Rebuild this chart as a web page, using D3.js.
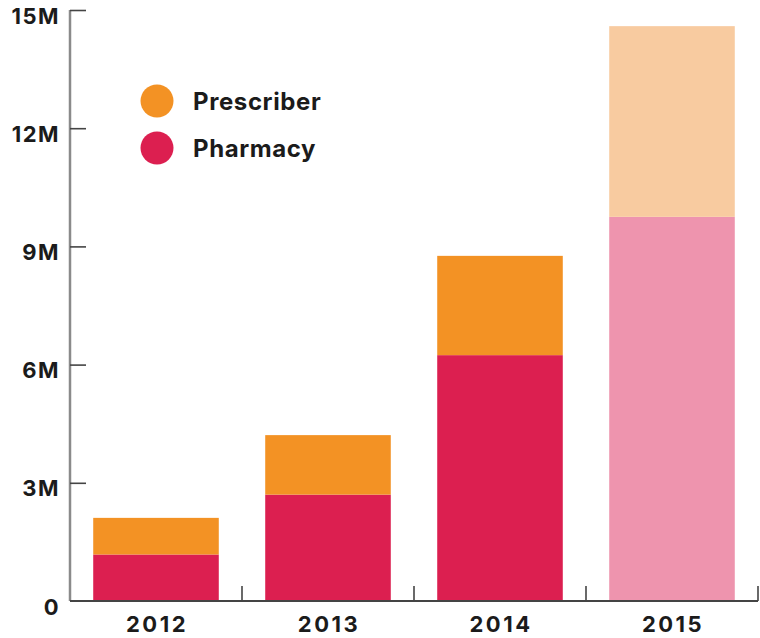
<!DOCTYPE html>
<html>
<head>
<meta charset="utf-8">
<script src="https://cdn.jsdelivr.net/npm/d3@7"></script>
<style>
  html, body { margin: 0; padding: 0; background: #fff; }
  svg { display: block; }
  text { font-family: Inter, "Open Sans", sans-serif; font-weight: 700; fill: #1b1b1b; }
</style>
</head>
<body>
<svg id="chart" width="760" height="638"></svg>
<script>
// Prescription volumes by year, stacked by source
const years = ["2012", "2013", "2014", "2015"];
const pharmacy = [1.18, 2.70, 6.24, 9.75];
const prescriber = [0.93, 1.51, 2.52, 4.84];
const seriesNames = ["Prescriber", "Pharmacy"];
const yTicks = [0, 3, 6, 9, 12, 15];
const yTickLabels = ["0", "3M", "6M", "9M", "12M", "15M"];

// 2015 is drawn in lighter tints (projected year)
const colors = {
  Pharmacy: "#dc1f50",
  Prescriber: "#f39224",
  PharmacyLight: "#ee94ae",
  PrescriberLight: "#f8cba0"
};

const svg = d3.select("#chart");
const x0 = 70, x1 = 758, yBase = 601, yTop = 10;

const x = d3.scaleBand().domain(years).range([x0, x1])
  .paddingInner(0.27).paddingOuter(0.135);
const y = d3.scaleLinear().domain([0, 15]).range([yBase, yTop]);

const rows = years.map((yr, i) => ({ year: yr, Pharmacy: pharmacy[i], Prescriber: prescriber[i] }));
const stack = d3.stack().keys(["Pharmacy", "Prescriber"])(rows);

const bars = svg.append("g");
stack.forEach(layer => {
  bars.selectAll(null).data(layer).join("rect")
    .attr("x", d => x(d.data.year))
    .attr("width", x.bandwidth())
    .attr("y", d => y(d[1]))
    .attr("height", d => y(d[0]) - y(d[1]))
    .attr("fill", d => d.data.year === "2015" ? colors[layer.key + "Light"] : colors[layer.key]);
});

// Y axis: ticks point inward, labels on the left
const yAxis = svg.append("g").attr("transform", `translate(${x0},0)`)
  .call(d3.axisLeft(y).tickValues(yTicks).tickSize(-16)
    .tickFormat((d, i) => yTickLabels[i]).tickPadding(28));
yAxis.select(".domain").attr("stroke", "#8a8a8a").attr("stroke-width", 2.5)
  .attr("d", `M0,${yBase}V${yTop}`);
yAxis.selectAll(".tick line").attr("stroke", "#444").attr("stroke-width", 1.6);
yAxis.selectAll(".tick text")
  .attr("x", -10).attr("dy", 0).attr("y", 13)
  .style("font-size", "22px").style("font-family", "Inter, sans-serif")
  .style("letter-spacing", "1.5px")
  .style("font-weight", 700).attr("fill", "#1b1b1b");
yAxis.selectAll(".tick").filter(d => d === 0).select("line").remove();

// X axis: baseline, boundary ticks pointing up, year labels centered
const xAxis = svg.append("g").attr("transform", `translate(0,${yBase})`)
  .call(d3.axisBottom(x).tickSize(0));
xAxis.select(".domain").attr("stroke", "#444").attr("stroke-width", 2)
  .attr("d", `M${x0},0H${x1}`);
xAxis.selectAll(".tick text")
  .attr("y", 31).attr("dy", 0).attr("x", 1)
  .style("font-size", "22px").style("font-family", "Inter, sans-serif")
  .style("letter-spacing", "2.5px")
  .style("font-weight", 700).attr("fill", "#1b1b1b");
const boundaries = years.map(yr => x(yr) + x.bandwidth() + x.step() * x.paddingInner() / 2);
boundaries[boundaries.length - 1] = x1;
xAxis.selectAll(".bound").data(boundaries).join("line")
  .attr("x1", d => d).attr("x2", d => d)
  .attr("y1", 0).attr("y2", -15)
  .attr("stroke", "#444").attr("stroke-width", 1.6);

// Legend
const legend = svg.append("g").attr("transform", "translate(157,101)");
const legendItems = legend.selectAll("g").data(seriesNames).join("g")
  .attr("transform", (d, i) => `translate(0,${i * 47})`);
legendItems.append("circle").attr("r", 16.5).attr("fill", d => colors[d]);
legendItems.append("text").attr("x", 36).attr("y", 9)
  .style("font-size", "24px").style("letter-spacing", "0.6px").text(d => d);
</script>
</body>
</html>
